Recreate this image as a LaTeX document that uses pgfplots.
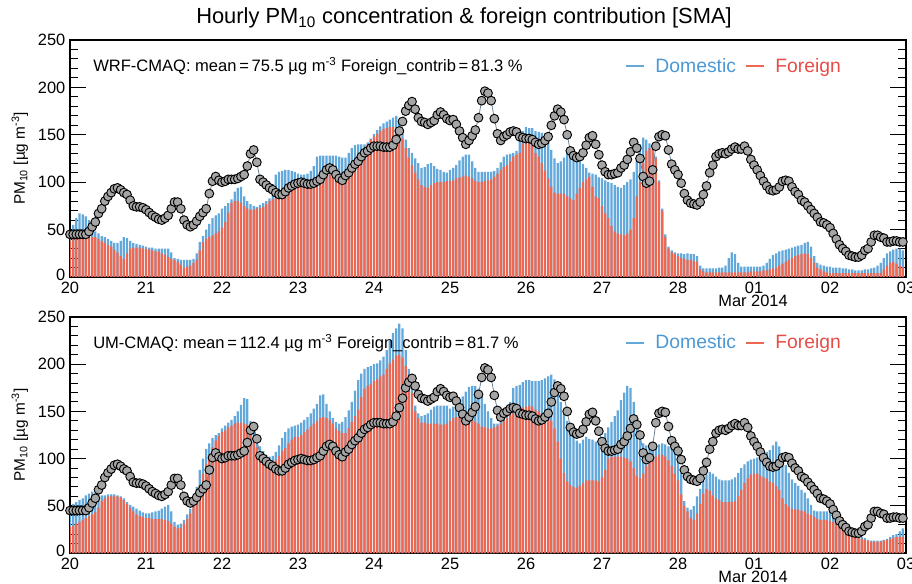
\documentclass[border=0pt]{standalone}
\usepackage{fontspec}
\setmainfont{Liberation Sans}
\usepackage{pgfplots}
\usepackage{pgfplotstable}
\pgfplotsset{compat=1.18}

\definecolor{dom}{RGB}{98,168,218}
\definecolor{frn}{RGB}{236,104,82}
\definecolor{domtxt}{RGB}{75,152,212}
\definecolor{frntxt}{RGB}{232,76,72}
\definecolor{obsline}{RGB}{110,130,150}
\definecolor{obsfill}{RGB}{165,165,165}

% hourly values from 20 Feb 00h (h=0) to 2 Mar 23h
% obs = observed, wf/wt = WRF-CMAQ foreign/total, uf/ut = UM-CMAQ foreign/total
\pgfplotstableread{
h obs wf wt uf ut
0 45 38 40 28 47
1 45 42 55 29 52
2 45 43 62 31 54
3 45 43 67 33 56
4 45 43 66 35 58
5 45 43 64 37 61
6 48 43 60 39 63
7 53 42 52 41 65
8 58 42 48 43 63
9 67 40 46 48 62
10 72 38 43 55 61
11 80 36 42 58 61
12 85 34 40 60 62
13 89 32 38 60 62
14 93 29 36 60 62
15 94 26 36 60 61
16 92 22 38 59 60
17 89 19 42 56 58
18 87 25 41 52 54
19 81 30 38 48 51
20 75 31 36 44 49
21 74 31 35 41 47
22 74 31 34 39 45
23 73 30 33 38 43
24 71 30 32 37 42
25 68 29 31 37 42
26 65 28 31 36 43
27 63 27 30 36 44
28 61 27 30 36 45
29 60 25 30 36 47
30 62 23 30 35 49
31 65 21 30 34 51
32 72 19 26 31 44
33 79 18 20 28 33
34 79 16 19 26 30
35 72 13 18 27 31
36 60 10 18 31 35
37 55 11 18 36 41
38 53 12 18 42 47
39 55 15 19 52 58
40 59 18 25 61 70
41 64 28 37 72 88
42 68 37 43 84 100
43 72 40 50 94 110
44 88 42 56 104 116
45 101 44 62 112 122
46 106 46 65 119 125
47 102 48 67 124 127
48 100 52 72 128 132
49 101 58 75 130 135
50 103 68 78 133 138
51 103 78 82 135 141
52 103 80 90 137 145
53 104 80 94 138 150
54 106 78 95 138 157
55 108 75 85 137 164
56 117 72 80 136 163
57 130 71 77 125 140
58 134 71 75 118 136
59 121 72 74 112 122
60 103 73 76 105 113
61 100 74 78 100 108
62 97 77 80 96 104
63 94 80 83 94 102
64 92 82 98 95 103
65 89 83 108 98 107
66 87 85 111 103 114
67 87 87 112 108 122
68 90 90 113 111 128
69 94 94 113 116 132
70 96 97 112 120 134
71 98 99 111 123 135
72 99 98 109 123 136
73 100 97 108 125 138
74 99 95 108 128 141
75 98 94 109 131 144
76 98 94 112 134 148
77 99 94 117 137 153
78 101 95 127 140 158
79 103 97 128 143 167
80 108 103 128 144 168
81 113 108 128 143 158
82 115 108 128 141 150
83 113 106 128 137 143
84 108 104 128 132 139
85 104 103 127 129 137
86 102 102 126 127 139
87 107 104 126 127 144
88 110 106 131 132 151
89 115 112 136 139 160
90 119 116 139 145 172
91 122 122 140 152 183
92 127 128 140 165 190
93 131 134 140 174 195
94 133 140 142 177 197
95 136 145 146 179 198
96 138 148 151 182 200
97 138 151 155 184 201
98 138 154 159 187 204
99 137 156 162 189 208
100 137 157 164 195 215
101 137 158 166 201 225
102 139 158 168 205 233
103 145 157 170 209 238
104 154 154 166 210 243
105 164 146 156 207 238
106 175 136 145 198 215
107 181 126 136 185 195
108 185 118 131 170 177
109 177 110 125 150 156
110 168 103 120 143 148
111 164 97 115 138 145
112 163 95 116 138 146
113 161 94 119 137 148
114 163 97 120 137 152
115 165 99 117 137 155
116 171 100 114 137 156
117 174 100 113 136 156
118 171 100 111 136 156
119 167 101 110 137 156
120 165 101 113 140 153
121 166 102 115 143 155
122 161 104 118 144 157
123 154 105 123 144 161
124 147 106 127 143 166
125 140 107 129 143 171
126 144 106 129 143 176
127 149 104 122 141 177
128 155 101 115 139 177
129 168 100 111 137 174
130 186 100 111 134 167
131 196 101 111 133 158
132 194 102 111 132 150
133 186 103 111 132 143
134 167 106 112 133 137
135 151 109 115 135 137
136 144 113 121 137 139
137 148 116 127 140 143
138 150 118 129 143 147
139 153 122 130 146 160
140 154 127 131 148 175
141 153 129 133 151 177
142 148 131 145 153 178
143 147 141 154 154 181
144 146 145 158 155 183
145 146 143 157 156 183
146 145 138 157 155 182
147 142 131 154 152 182
148 140 127 153 150 182
149 141 120 152 148 183
150 144 112 148 146 185
151 148 104 142 144 187
152 160 95 134 140 189
153 170 89 125 132 184
154 177 88 120 118 172
155 174 88 122 100 160
156 166 88 126 85 147
157 150 85 134 76 140
158 133 83 134 72 134
159 128 81 133 70 125
160 126 88 129 69 119
161 127 94 125 71 116
162 131 100 119 74 120
163 139 103 115 77 123
164 147 106 110 77 121
165 149 95 109 77 120
166 140 85 108 77 118
167 129 83 105 76 119
168 118 75 104 80 121
169 111 67 102 88 127
170 108 62 100 100 133
171 108 54 99 102 139
172 109 48 97 102 145
173 110 46 95 102 151
174 115 45 94 102 162
175 118 44 97 101 170
176 124 46 100 100 177
177 132 50 103 97 175
178 142 62 111 90 160
179 136 85 125 82 138
180 125 100 140 79 124
181 106 120 147 84 116
182 99 133 145 92 114
183 101 136 141 97 113
184 113 135 137 100 114
185 138 125 127 102 114
186 148 100 102 104 115
187 150 70 72 104 116
188 149 42 45 102 115
189 134 30 32 98 113
190 119 26 28 92 111
191 113 24 26 84 112
192 108 22 25 77 105
193 99 20 25 62 85
194 88 19 24 50 55
195 81 18 25 44 48
196 78 18 24 37 46
197 77 17 24 35 50
198 76 16 22 42 60
199 79 8 12 52 68
200 87 6 9 63 76
201 96 5 9 68 83
202 110 5 9 66 86
203 118 5 9 61 84
204 127 5 9 58 81
205 130 5 10 56 78
206 131 5 10 54 77
207 130 5 12 54 77
208 132 5 20 54 77
209 135 5 26 54 78
210 137 5 24 55 80
211 135 5 15 60 85
212 135 5 11 67 90
213 138 5 11 74 94
214 133 5 11 79 97
215 124 6 11 83 99
216 118 6 11 84 100
217 113 6 11 84 101
218 107 6 11 82 103
219 101 7 12 80 105
220 96 7 15 79 107
221 92 8 19 76 109
222 91 9 23 74 114
223 92 10 25 71 118
224 95 12 27 67 113
225 101 14 28 58 102
226 102 16 29 52 93
227 101 18 30 49 85
228 95 20 31 47 78
229 90 22 32 46 74
230 87 23 33 46 71
231 81 24 34 45 67
232 79 25 36 44 64
233 75 24 37 42 58
234 71 20 32 40 51
235 67 15 22 38 45
236 63 10 15 36 44
237 58 8 13 35 44
238 57 6 12 35 44
239 55 5 11 35 44
240 52 4 11 34 44
241 46 4 10 33 42
242 40 4 10 32 40
243 34 4 10 30 38
244 30 4 9 27 37
245 27 4 9 24 32
246 23 4 8 21 28
247 22 4 8 19 24
248 21 4 7 17 21
249 21 4 7 16 19
250 23 4 7 15 17
251 28 4 8 14 16
252 30 4 8 13 14
253 37 4 9 12 13
254 44 4 10 12 13
255 44 4 12 12 13
256 42 4 15 12 13
257 41 8 20 13 14
258 37 12 25 14 15
259 37 15 27 15 17
260 38 16 29 16 19
261 38 14 30 17 20
262 37 12 30 17 23
263 37 10 28 17 26
}\pmdata

\pgfplotsset{
  panel/.style={
    scale only axis, width=627pt, anchor=north west,
    xmin=0, xmax=264, ymin=0, ymax=250,
    xtick={0,24,...,264},
    xticklabels={20,21,22,23,24,25,26,27,28,01,02,03},
    minor xtick={12,36,...,252},
    ytick={0,50,...,250}, minor y tick num=4,
    % end labels pulled inside the box, as in the original
    yticklabel={\ifcase\ticknum\raisebox{3.5pt}{0}\or 50\or 100\or 150\or 200\or\raisebox{-3.5pt}{250}\fi},
    tick align=inside, xtick pos=bottom, ytick pos=both,
    axis line style={line width=0.9pt},
    tick style={black, line width=0.8pt},
    xtick style={/pgfplots/major tick length=6.75pt, /pgfplots/minor tick length=3.75pt},
    ytick style={/pgfplots/major tick length=12pt, /pgfplots/minor tick length=6pt},
    tick label style={font=\fontsize{12.3}{14}\selectfont},
    /pgf/number format/assume math mode=true,
    ylabel={PM\textsubscript{10} [µg m\textsuperscript{-3}]},
    every axis y label/.style={at={(axis description cs:-0.06,0.5)}, rotate=90, anchor=center, font=\fontsize{11.5}{13}\selectfont},
    xlabel={Mar 2014},
    every axis x label/.style={at={(axis description cs:0.817,0)}, anchor=north, yshift=-10pt, font=\fontsize{12.3}{14}\selectfont},
    clip mode=individual,
    legend style={draw=none, fill=none, at={(axis description cs:0.664,0.89)}, anchor=west,
      legend columns=2, font=\fontsize{14.5}{17}\selectfont, inner sep=0pt,
      /tikz/every even column/.append style={column sep=5pt}},
    domestic/.style={ybar, bar width=0.72, bar shift=0pt, fill=dom, draw=none,
      legend image code/.code={\draw[dom, line width=1.1pt] (0pt,0pt) -- (13.5pt,0pt); \path (20pt,0pt);}},
    foreign/.style={ybar, bar width=0.72, bar shift=0pt, fill=frn, draw=none,
      legend image code/.code={\draw[frn, line width=1.1pt] (0pt,0pt) -- (13.5pt,0pt); \path (20pt,0pt);}},
    observed/.style={obsline, line width=0.6pt, mark=*, mark size=3.3pt,
      mark options={fill=obsfill, draw=black, line width=0.7pt}, forget plot},
  }
}

\begin{document}
\begin{tikzpicture}
\useasboundingbox (0pt,0pt) rectangle (684pt,-438pt);
\node[font=\fontsize{16.4}{19}\selectfont] at (348pt,-13.5pt)
  {Hourly PM\textsubscript{10} concentration \& foreign contribution [SMA]};

\begin{axis}[panel, at={(52.5pt,-30pt)}, height=177.75pt]
  \addplot[domestic] table[x=h, y=wt] {\pmdata};
  \addlegendentry{\textcolor{domtxt}{Domestic}}
  \addplot[foreign] table[x=h, y=wf] {\pmdata};
  \addlegendentry{\textcolor{frntxt}{Foreign}}
  \addplot[observed] table[x=h, y=obs] {\pmdata};
  \node[anchor=west, inner sep=0pt, font=\fontsize{12.4}{14}\selectfont] at (axis description cs:0.0275,0.89)
    {WRF-CMAQ: mean\,=\,75.5 µg m\textsuperscript{-3} Foreign\_contrib\,=\,81.3 \%};
\end{axis}

\begin{axis}[panel, at={(52.5pt,-237.75pt)}, height=177pt]
  \addplot[domestic] table[x=h, y=ut] {\pmdata};
  \addlegendentry{\textcolor{domtxt}{Domestic}}
  \addplot[foreign] table[x=h, y=uf] {\pmdata};
  \addlegendentry{\textcolor{frntxt}{Foreign}}
  \addplot[observed] table[x=h, y=obs] {\pmdata};
  \node[anchor=west, inner sep=0pt, font=\fontsize{12.4}{14}\selectfont] at (axis description cs:0.0275,0.89)
    {UM-CMAQ: mean\,=\,112.4 µg m\textsuperscript{-3} Foreign\_contrib\,=\,81.7 \%};
\end{axis}
\end{tikzpicture}
\end{document}
